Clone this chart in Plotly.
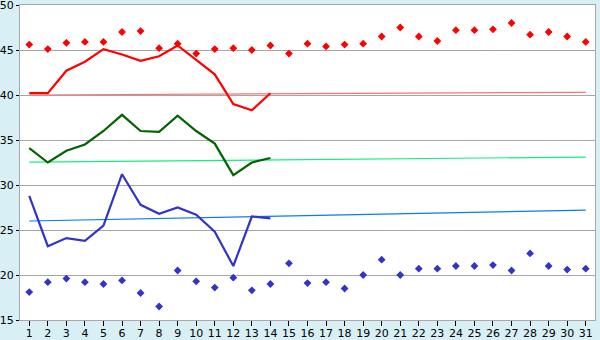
import plotly.graph_objects as go

days = list(range(1, 32))
days14 = list(range(1, 15))

high_pts = [45.6, 45.1, 45.8, 45.9, 45.9, 47.0, 47.1, 45.2, 45.7, 44.6,
            45.1, 45.2, 45.0, 45.5, 44.6, 45.7, 45.4, 45.6, 45.7, 46.5,
            47.5, 46.5, 46.0, 47.2, 47.2, 47.3, 48.0, 46.7, 47.0, 46.5, 45.9]
red_line = [40.2, 40.2, 42.7, 43.7, 45.1, 44.5, 43.8, 44.3, 45.5, 43.9,
            42.3, 39.0, 38.3, 40.2]
green_line = [34.1, 32.5, 33.8, 34.5, 36.0, 37.8, 36.0, 35.9, 37.7, 36.0,
              34.6, 31.1, 32.5, 33.0]
blue_line = [28.8, 23.2, 24.1, 23.8, 25.5, 31.2, 27.8, 26.8, 27.5, 26.7,
             24.8, 21.0, 26.5, 26.3]
low_pts = [18.1, 19.2, 19.6, 19.2, 19.0, 19.4, 18.0, 16.5, 20.5, 19.3,
           18.6, 19.7, 18.3, 19.0, 21.3, 19.1, 19.2, 18.5, 20.0, 21.7,
           20.0, 20.7, 20.7, 21.0, 21.0, 21.1, 20.5, 22.4, 21.0, 20.6, 20.7]
trend_days = [1, 31]
red_trend = [40.0, 40.3]
green_trend = [32.55, 33.1]
blue_trend = [26.0, 27.2]

fig = go.Figure()
fig.add_trace(go.Scatter(x=trend_days, y=red_trend, mode="lines",
                         line=dict(color="#FF7070", width=1.2)))
fig.add_trace(go.Scatter(x=trend_days, y=green_trend, mode="lines",
                         line=dict(color="#10F080", width=1.2)))
fig.add_trace(go.Scatter(x=trend_days, y=blue_trend, mode="lines",
                         line=dict(color="#0A78FF", width=1.2)))
fig.add_trace(go.Scatter(x=days14, y=red_line, mode="lines",
                         line=dict(color="#FF0000", width=2.2)))
fig.add_trace(go.Scatter(x=days14, y=green_line, mode="lines",
                         line=dict(color="#006400", width=2.2)))
fig.add_trace(go.Scatter(x=days14, y=blue_line, mode="lines",
                         line=dict(color="#3333CC", width=2.2)))
fig.add_trace(go.Scatter(x=days, y=high_pts, mode="markers",
                         marker=dict(symbol="diamond", size=6, color="#FF0000")))
fig.add_trace(go.Scatter(x=days, y=low_pts, mode="markers",
                         marker=dict(symbol="diamond", size=6, color="#3333CC")))

fig.update_layout(
    width=600, height=340,
    margin=dict(l=20, r=5, t=5, b=20),
    paper_bgcolor="#D9EFF6",
    plot_bgcolor="#FFFFFF",
    showlegend=False,
    font=dict(family="DejaVu Sans", size=11, color="#000000"),
)
fig.update_xaxes(
    range=[0.5, 31.5], tickmode="array", tickvals=days,
    ticks="outside", ticklen=5, tickcolor="#000000",
    showgrid=False, zeroline=False, ticklabeloverflow="allow",
    automargin=False, ticklabelstandoff=-2,
    showline=True, linecolor="#A8A8A8", linewidth=1, mirror=True,
)
fig.update_yaxes(
    range=[15, 50], dtick=5, tick0=15,
    ticks="outside", ticklen=3, tickcolor="#000000",
    showgrid=True, gridcolor="#A6A6A6", gridwidth=1, zeroline=False,
    ticklabeloverflow="allow", automargin=False,
    showline=True, linecolor="#A8A8A8", linewidth=1, mirror=True,
)

fig.write_html("out.html")
